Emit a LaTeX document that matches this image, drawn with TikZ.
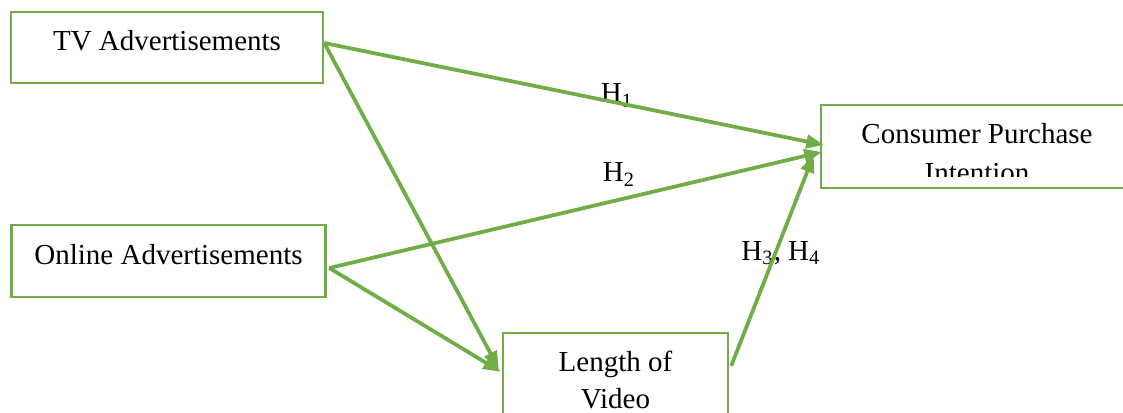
\documentclass[tikz,border=0pt]{standalone}
\usepackage{fontspec}
\setmainfont{Liberation Serif}
\usetikzlibrary{positioning, arrows.meta, calc}
\definecolor{lineclr}{RGB}{112,173,71}

\begin{document}
\begin{tikzpicture}[
    x=0.4pt, y=-0.4pt,
    font=\fontsize{11.6}{15.4}\selectfont,
    >={Triangle[length=7pt, width=5.4pt]},
    blk/.style ={draw=lineclr, line width=1pt, align=center, inner sep=0pt,
                 text height=8pt, text depth=5.5pt},
    two/.style ={blk, text height=31pt, text depth=2.2pt, minimum height=33.2pt},
    flow/.style={->, draw=lineclr, line width=1.5pt},
    hyp/.style ={anchor=base},
]
\useasboundingbox (0,0) rectangle (1123,412);
\clip (0,0) rectangle (1123,412);

% =============== Constructs ===============
\node[blk, minimum width=124.8pt, minimum height=28.4pt] (tv)     at (167,47.5) {TV Advertisements};
\node[blk, minimum width=125.6pt, minimum height=28.8pt] (online) at (168.5,261) {Online Advertisements};
\node[two, minimum width=90pt, text height=29.2pt, font=\fontsize{11.6}{14.6}\selectfont]
      (len) at (615.5,374.5) {Length of\\Video};
\node[two, minimum width=124.8pt] (cpi) at (977,146.5) {};

% text of the outcome box is cut off at the bottom
\begin{scope}
  \clip (800,100) rectangle (1140,177);
  \node[two, draw=none, minimum width=124.8pt] (cpitext) at (cpi) {Consumer Purchase\\Intention};
\end{scope}

% =============== Hypotheses ===============
\node[hyp] (h1)  at (617,103) {H\textsubscript{1}};
\node[hyp] (h2)  at (619,182) {H\textsubscript{2}};
\node[hyp] (h34) at (781,260) {H\textsubscript{3}, H\textsubscript{4}};

% =============== Paths ===============
\draw[flow] ($(tv.east)+(0,-4.5)$)         -- ($(cpi.west)+(4,-1.5)$);
\draw[flow] ($(tv.east)+(0,-4.5)$)         -- ($(len.north west)+(-3,37)$);
\draw[flow] ($(online.east)+(2.5,7)$)      -- ($(cpi.west)+(2,5.5)$);
\draw[flow] ($(online.east)+(2.5,7)$)      -- ($(len.north west)+(-1,40)$);
\draw[flow] ($(len.north east)+(2,34)$)    -- ($(cpi.west)+(-6,8.5)$);

\end{tikzpicture}
\end{document}
